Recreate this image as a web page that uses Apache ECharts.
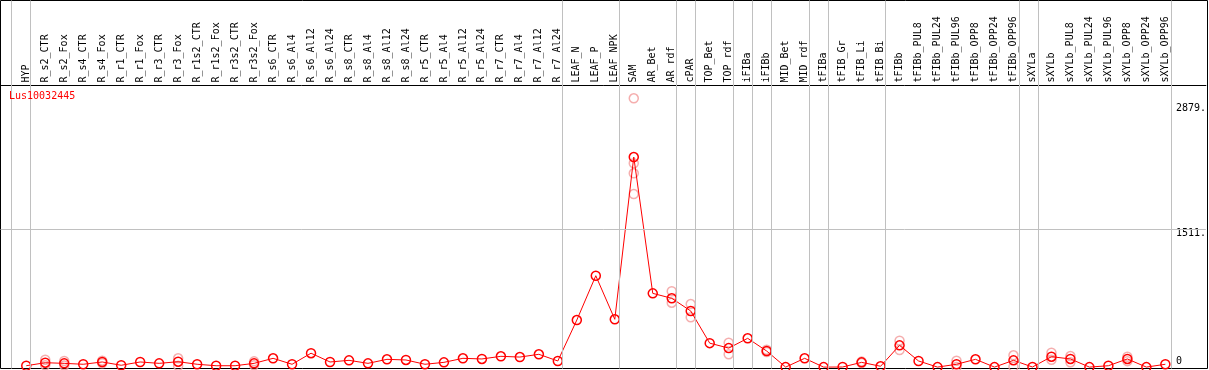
<!DOCTYPE html>
<html>
<head>
<meta charset="utf-8">
<script src="https://cdn.jsdelivr.net/npm/echarts@6/dist/echarts.min.js"></script>
<style>
  html, body { margin: 0; padding: 0; background: #fff; }
  #chart { width: 1209px; height: 370px; }
</style>
</head>
<body>
<div id="chart"></div>
<script>
// gene shown
const geneId = 'Lus10032445';

// sample names, one per column
const categories = [
  'HYP', 'R_s2_CTR', 'R_s2_Fox', 'R_s4_CTR', 'R_s4_Fox', 'R_r1_CTR', 'R_r1_Fox',
  'R_r3_CTR', 'R_r3_Fox', 'R_r1s2_CTR', 'R_r1s2_Fox', 'R_r3s2_CTR', 'R_r3s2_Fox',
  'R_s6_CTR', 'R_s6_Al4', 'R_s6_Al12', 'R_s6_Al24', 'R_s8_CTR', 'R_s8_Al4',
  'R_s8_Al12', 'R_s8_Al24', 'R_r5_CTR', 'R_r5_Al4', 'R_r5_Al12', 'R_r5_Al24',
  'R_r7_CTR', 'R_r7_Al4', 'R_r7_Al12', 'R_r7_Al24', 'LEAF_N', 'LEAF_P', 'LEAF_NPK',
  'SAM', 'AR_Bet', 'AR_rdf', 'cPAR', 'TOP_Bet', 'TOP_rdf', 'iFIBa', 'iFIBb',
  'MID_Bet', 'MID_rdf', 'tFIBa', 'tFIB_Gr', 'tFIB_Li', 'tFIB_Bi', 'tFIBb',
  'tFIBb_PUL8', 'tFIBb_PUL24', 'tFIBb_PUL96', 'tFIBb_OPP8', 'tFIBb_OPP24', 'tFIBb_OPP96',
  'sXYLa', 'sXYLb', 'sXYLb_PUL8', 'sXYLb_PUL24', 'sXYLb_PUL96', 'sXYLb_OPP8',
  'sXYLb_OPP24', 'sXYLb_OPP96'
];

// mean expression per sample
const means = [
  15, 48, 41, 31, 56, 20, 56, 41, 59, 31, 15, 15, 41,
  96, 31, 152, 56, 74, 41, 85, 78, 31, 52, 96, 89,
  118, 110, 140, 67, 515, 1000, 523,
  2299, 807, 753, 614, 262, 208, 315, 176,
  0, 96, 0, 1, 52, 9, 238,
  67, 0, 31, 85, 0, 74,
  1, 114, 89, 0, 15, 89, 0, 31
];

// single replicates that show apart from the mean
const replicates = [
  ['R_s2_CTR', 81], ['R_s2_CTR', 20], ['R_s2_Fox', 67], ['R_s2_Fox', 18],
  ['R_s4_Fox', 70], ['R_s4_Fox', 42], ['R_r3_Fox', 96], ['R_r3_Fox', 14],
  ['R_r3s2_Fox', 63], ['R_r3s2_Fox', 20],
  ['SAM', 2942], ['SAM', 2230], ['SAM', 2121], ['SAM', 1894],
  ['AR_rdf', 830], ['AR_rdf', 705], ['cPAR', 690], ['cPAR', 545],
  ['TOP_rdf', 267], ['TOP_rdf', 140], ['iFIBb', 190], ['iFIBb', 165],
  ['tFIB_Li', 60], ['tFIB_Li', 45], ['tFIBb', 289], ['tFIBb', 187],
  ['tFIBb_PUL96', 70], ['tFIBb_PUL96', 0], ['tFIBb_OPP96', 129], ['tFIBb_OPP96', 4],
  ['sXYLb', 158], ['sXYLb', 80], ['sXYLb_PUL8', 121], ['sXYLb_PUL8', 52],
  ['sXYLb_OPP8', 114], ['sXYLb_OPP8', 65]
];

// last sample of each group (-1 = left edge)
const groupEnds = [-1, 0, 28, 31, 34, 35, 37, 38, 39, 41, 42, 45, 52, 53, 60];

// y labels and the grid line
const yTicks = [0, 1511, 2879];
const yGridValue = 1511;

// pixel layout: first column at 26.3px, 19px per column, value 0 at 367.1px
const W = 1209, H = 370;
const X0 = 26.3, DX = 19.01;
const Y0 = 367.1, PER_PX = 10.944;
const gl = 0.5, gt = 0.5, gr = 1207.5, gb = 368.5, headerY = 85.5;
const xMin = (gl - X0) / DX, xMax = (gr - X0) / DX;
const yMin = (Y0 - gb) * PER_PX, yMax = (Y0 - headerY) * PER_PX;

const mono = 'DejaVu Sans Mono';
const chart = echarts.init(document.getElementById('chart'), null, { renderer: 'canvas' });

chart.setOption({
  animation: false,
  backgroundColor: '#fff',
  title: {
    text: geneId, left: 9, top: 91, padding: 0,
    textStyle: { color: '#ff0000', fontSize: 10, fontWeight: 'normal', fontFamily: mono }
  },
  grid: [
    // whole frame, holds the group separators
    { left: gl, top: gt, right: W - gr, bottom: H - gb,
      show: true, borderColor: '#000', borderWidth: 1, backgroundColor: '#fff' },
    // plot area under the label header
    { left: gl, top: headerY, right: W - gr, bottom: H - gb }
  ],
  xAxis: [
    { gridIndex: 0, type: 'value', min: xMin, max: xMax, show: false },
    {
      gridIndex: 1, type: 'value', position: 'top',
      min: xMin, max: xMax,
      axisLine: { show: true, onZero: false, lineStyle: { color: '#000', width: 1 } },
      axisTick: { show: false },
      splitLine: { show: false },
      axisLabel: {
        customValues: categories.map((c, i) => i),
        formatter: v => categories[v] || '',
        rotate: -90, margin: 3, fontSize: 10, fontFamily: mono, color: '#000'
      }
    }
  ],
  yAxis: [
    { gridIndex: 0, type: 'value', min: 0, max: 1, show: false },
    {
      gridIndex: 1, type: 'value', position: 'right', min: yMin, max: yMax,
      axisLine: { show: false, onZero: false }, axisTick: { show: false }, splitLine: { show: false },
      axisLabel: {
        inside: true, align: 'left', margin: 30, verticalAlign: 'middle',
        customValues: yTicks,
        formatter: v => v === 0 ? '{hi|0}' : '{lo|' + v + '.}',
        rich: {
          lo: { fontSize: 10, fontFamily: mono, color: '#000', padding: [8, 0, 0, 0] },
          hi: { fontSize: 10, fontFamily: mono, color: '#000', padding: [0, 0, 11, 0] }
        }
      }
    }
  ],
  series: [
    {
      type: 'scatter', xAxisIndex: 0, yAxisIndex: 0, data: [], z: 0, silent: true,
      markLine: {
        silent: true, symbol: 'none', label: { show: false }, animation: false,
        lineStyle: { color: '#c0c0c0', width: 1, type: 'solid' },
        data: groupEnds.map(i => ({ xAxis: i + 0.21 }))
      }
    },
    {
      type: 'scatter', xAxisIndex: 1, yAxisIndex: 1, data: [], z: 0, silent: true,
      markLine: {
        silent: true, symbol: 'none', label: { show: false }, animation: false,
        lineStyle: { color: '#c0c0c0', width: 1, type: 'solid' },
        data: [{ yAxis: yGridValue }]
      }
    },
    {
      type: 'scatter', xAxisIndex: 1, yAxisIndex: 1, z: 1, silent: true,
      data: replicates.map(r => [categories.indexOf(r[0]), r[1]]),
      symbol: 'circle', symbolSize: 9,
      itemStyle: { color: 'rgba(0,0,0,0)', borderColor: '#f29a9a', borderWidth: 1.5 }
    },
    {
      type: 'line', xAxisIndex: 1, yAxisIndex: 1, z: 2, silent: true,
      data: means.map((v, i) => [i, v]),
      symbol: 'circle', symbolSize: 9, showAllSymbol: true,
      lineStyle: { color: '#ff0000', width: 1 },
      itemStyle: { color: 'rgba(0,0,0,0)', borderColor: '#ff0000', borderWidth: 1.5 }
    }
  ]
});
</script>
</body>
</html>
